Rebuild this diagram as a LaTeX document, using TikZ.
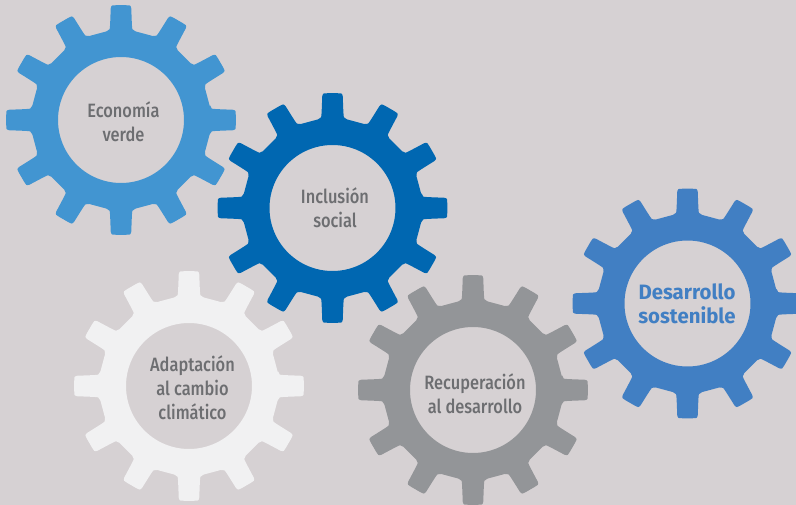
\documentclass[tikz,border=0pt]{standalone}
\usepackage{fontspec}
\setmainfont[FakeStretch=0.85]{Fira Sans Medium}
\newfontfamily\boldface[FakeStretch=0.98]{Fira Sans Bold}
\definecolor{bgc}{HTML}{D6D1D3}
\definecolor{gearA}{HTML}{4295D1}
\definecolor{gearB}{HTML}{0067B1}
\definecolor{gearC}{HTML}{F1F1F2}
\definecolor{gearD}{HTML}{939598}
\definecolor{gearE}{HTML}{417FC3}
\definecolor{txt}{HTML}{6D6E71}
\tikzset{
  geartext/.style={text=txt,font=\fontsize{19.3}{24}\selectfont,align=center,inner sep=0pt},
  boldtext/.style={text=gearE,font=\fontsize{20.8}{24}\selectfont\boldface,align=center,inner sep=0pt}
}
\newcommand{\geardraw}[3]{%
  \fill[#3,even odd rule,rounded corners=2pt,shift={(#1,#2)}]
    (-8:90)
    \foreach \a in {0,30,...,330}{
      -- ({\a-8}:90)
      .. controls ({\a-6.9}:92) and ({\a-6.4}:97) .. ({\a-5.4}:110)
      .. controls ({\a-5.2}:113.5) and ({\a-4.6}:114.8) .. ({\a-3.4}:115)
      -- ({\a+3.4}:115)
      .. controls ({\a+4.6}:114.8) and ({\a+5.2}:113.5) .. ({\a+5.4}:110)
      .. controls ({\a+6.4}:97) and ({\a+6.9}:92) .. ({\a+8}:90)
    } -- cycle
    [sharp corners] (0,0) circle (63);
}
\begin{document}
\begin{tikzpicture}[x=1pt,y=-1pt]
\fill[bgc] (0,0) rectangle (796,505);
\useasboundingbox (0,0) rectangle (796,505);
\geardraw{121}{120}{gearA}
\geardraw{332.5}{208}{gearB}
\geardraw{189}{386}{gearC}
\geardraw{473}{390}{gearD}
\geardraw{687.5}{303.5}{gearE}
\node[geartext] (t1) at (123.5,122) {Economía\\verde};
\node[geartext] (t2) at (335,208) {Inclusión\\social};
\node[geartext] (t3) at (192.5,387.5) {Adaptación\\al cambio\\climático};
\node[geartext] (t4) at (475,394) {Recuperación\\al desarrollo};
\node[boldtext] (t5) at (687,303.5) {Desarrollo\\sostenible};
\end{tikzpicture}
\end{document}
